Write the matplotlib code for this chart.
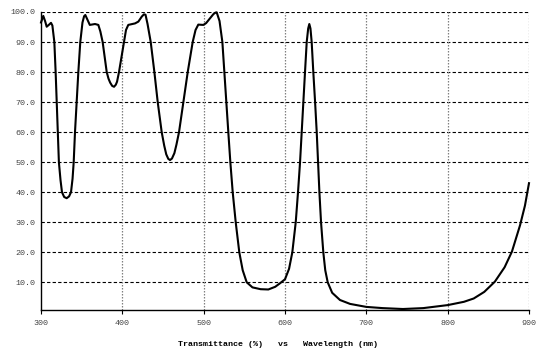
import matplotlib
matplotlib.use("Agg")
import matplotlib.pyplot as plt

# Transmission spectrum samples: wavelength (nm) and transmittance (%)
wavelength = [
    300, 302.8, 305, 307, 310, 312.3, 314, 316.4, 318, 319.3, 320.5, 322,
    324, 325.8, 328.5, 331.6, 334.5, 336.9, 338.8, 340.2, 341.8, 343.9, 345.9, 348.3,
    351, 353, 354.5, 357, 360, 366.4, 370.5, 373, 375.8, 380.8, 383, 385,
    387.5, 389.8, 392, 393.5, 395.9, 402, 404.5, 407.3, 412, 415.6, 419.7, 424,
    426.5, 428.5, 431, 434.9, 439.4, 443.5, 448.4, 451.5, 454, 456.5, 458.6, 461,
    464, 466.5, 469.7, 475, 480.4, 486.5, 490, 493.4, 499.6, 503, 507.8, 512,
    514.5, 516, 519.5, 523, 525.4, 527.9, 530.3, 532.8, 535.7, 539.4, 543.8, 548,
    552.9, 560, 570, 579.5, 588, 594, 600, 605, 609, 613.2, 616, 618.5,
    620.5, 622.5, 624.6, 626.7, 628.5, 629.9, 631.3, 632.8, 634.8, 637, 639, 640.6,
    642.3, 644.3, 647.1, 649.5, 652.5, 658, 667.6, 680, 700, 720, 745, 770,
    800, 820, 832, 845, 858, 870, 879, 889, 895, 900,
]
transmittance = [
    96.5, 98.7, 97.0, 95.1, 95.8, 96.4, 95.5, 90, 80, 70, 60, 50,
    44, 40, 38.4, 38.0, 38.6, 40, 44.5, 50, 60, 70, 80, 90,
    96.5, 98.6, 99.0, 97.5, 95.7, 96.0, 95.7, 93.5, 90, 80, 77.8, 76.5,
    75.4, 75.1, 75.8, 76.8, 80, 90, 94, 95.7, 96.0, 96.2, 96.8, 98.5,
    99.2, 99.1, 96, 90, 80, 70, 60, 55.5, 52.6, 51.1, 50.7, 51.2,
    53, 55.8, 60, 70, 80, 90, 94, 95.8, 95.7, 96.3, 97.9, 99.3,
    99.8, 99.9, 97, 90, 80, 70, 60, 50, 40, 30, 20, 14,
    10, 8.3, 7.7, 7.6, 8.5, 9.7, 11, 14.5, 20, 30, 40, 50,
    60, 70, 80, 90, 94.5, 96, 94.5, 90, 80, 70, 60, 50,
    40, 30, 20, 14, 10, 6.5, 4.1, 2.8, 1.8, 1.4, 1.1, 1.4,
    2.4, 3.5, 4.6, 6.8, 10.2, 15, 20.2, 29, 35.5, 43,
]

x_ticks = [300, 400, 500, 600, 700, 800, 900]
y_ticks = [10, 20, 30, 40, 50, 60, 70, 80, 90, 100]
y_tick_labels = [f"{v:.1f}" for v in y_ticks]
x_label = "Transmittance (%)   vs   Wavelength (nm)"

mono = ["Liberation Mono", "DejaVu Sans Mono"]

fig = plt.figure(figsize=(5.42, 3.61), dpi=100)
ax = fig.add_axes([41 / 542, 1 - 310.3 / 361, 488 / 542, (310.3 - 12) / 361])

ax.set_xlim(300, 900)
ax.set_ylim(0.67, 100)

# horizontal dashed grid
for v in y_ticks:
    ax.axhline(v, color="black", lw=0.8, dashes=(3, 2), zorder=1)
# vertical dotted grid
for v in x_ticks[1:]:
    ax.axvline(v, color="#808080", lw=0.9, dashes=(1.2, 1.2), zorder=1)

ax.plot(wavelength, transmittance, color="black", lw=1.5, zorder=3,
        solid_joinstyle="round", clip_on=False)

for side in ("top", "right"):
    ax.spines[side].set_visible(False)
for side in ("left", "bottom"):
    ax.spines[side].set_linewidth(1.0)
    ax.spines[side].set_color("black")

ax.set_xticks(x_ticks)
ax.set_xticklabels([str(v) for v in x_ticks])
ax.set_yticks(y_ticks)
ax.set_yticklabels(y_tick_labels)
ax.tick_params(axis="x", direction="out", length=3, width=0.8, pad=4,
               labelsize=6, labelcolor="#444444")
ax.tick_params(axis="y", length=0, pad=4, labelsize=6, labelcolor="#444444")
for lab in ax.get_xticklabels() + ax.get_yticklabels():
    lab.set_family(mono)

fig.text(278.5 / 542, 1 - 344.5 / 361, x_label, ha="center", va="center",
         fontsize=6, fontweight="bold", family=mono, color="black")

fig.savefig("out.png", dpi=100)
